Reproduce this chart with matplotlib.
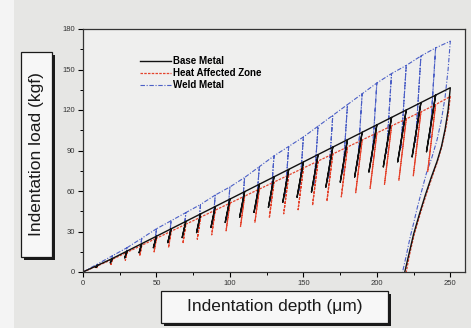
import matplotlib
matplotlib.use("Agg")
import matplotlib.pyplot as plt
from matplotlib.patches import Rectangle
from matplotlib.ticker import MultipleLocator

plt.rcParams["font.family"] = ["Liberation Sans", "DejaVu Sans"]

# depth of each loading peak (um), shared by the three materials
peak_depth = [10, 20, 30, 40, 50, 60, 70, 80, 90, 100, 110, 120, 130,
              140, 150, 160, 170, 180, 190, 200, 210, 220, 230, 240, 250]

# base metal
base_peak = [5, 10, 15.5, 21, 26.5, 32, 37.5, 43, 48.5, 54, 59.5, 65, 70.5,
             76, 81.5, 87, 92.5, 98, 103.5, 109, 114.5, 120, 125.5, 131, 136.5]
base_valley = [3.4, 6.8, 10.5, 14.3, 18, 21.8, 25.5, 29.2, 33, 36.7, 40.5, 44.2,
               47.9, 51.7, 55.4, 59.2, 62.9, 66.6, 70.4, 74.1, 77.9, 81.6, 85.3, 89.1]
base_valley_depth = [8.8, 18.6, 28.4, 38.2, 47.9, 57.7, 67.5, 77.3, 87.1, 96.8,
                     106.6, 116.4, 126.2, 136, 145.7, 155.5, 165.3, 175.1, 184.9,
                     194.6, 204.4, 214.2, 224, 233.8]
base_unload_depth = [248.5, 246.5, 244, 241, 237, 233, 229, 225, 222, 219]
base_unload_load = [120, 106, 93, 82, 70, 57, 43, 28, 14, 0]

# heat affected zone
haz_peak = [4.6, 9.4, 14.6, 19.8, 25, 30.2, 35.4, 40.6, 45.8, 51, 56.2, 61.4, 66.6,
            71.8, 77, 82.2, 87.4, 92.6, 97.8, 103, 108.2, 113.4, 118.6, 124, 130]
haz_valley = [2.8, 5.6, 8.8, 11.9, 15, 18.1, 21.2, 24.4, 27.5, 30.6, 33.7, 36.8,
              40, 43.1, 46.2, 49.3, 52.4, 55.6, 58.7, 61.8, 64.9, 68, 71.2, 74.4]
haz_valley_depth = [9.2, 19, 28.8, 38.6, 48.4, 58.2, 68, 77.8, 87.6, 97.4, 107.2,
                    117, 126.8, 136.6, 146.4, 156.2, 166, 175.8, 185.6, 195.4,
                    205.2, 215, 224.8, 234.6]
haz_unload_depth = [248.5, 246.5, 244, 241, 237.5, 233.5, 229.5, 225.5, 222.5, 220]
haz_unload_load = [116, 104, 92, 81, 70, 57, 43, 28, 14, 0]

# weld metal
weld_peak = [6, 12, 18, 25, 32, 38, 44, 50, 57, 63, 70, 78, 86,
             93, 100, 108, 116, 124, 132, 140, 147, 153, 160, 166, 171]
weld_valley = [4.2, 8.4, 12.6, 17, 21.5, 25, 28.5, 32, 36, 39.5, 43.5, 48, 52.5,
               56.5, 60.5, 65, 69.5, 74, 79, 84, 88, 92, 96, 99.5]
weld_valley_depth = [9.4, 19.3, 29.1, 39, 48.9, 58.7, 68.6, 78.5, 88.4, 98.2,
                     108.1, 117.9, 127.8, 137.6, 147.5, 157.3, 167.2, 177, 186.9,
                     196.7, 206.6, 216.4, 226.3, 236.2]
weld_unload_depth = [248.5, 246.5, 244, 241, 237.5, 233.7, 230.5, 227.6, 225,
                     222.5, 220, 217.5]
weld_unload_load = [150, 130, 113, 98, 85, 73, 60, 48, 36, 25, 12, 0]


def cycle_curve(peak, valley, valley_depth, unload_depth, unload_load):
    xs, ys = [0.0], [0.0]
    for h, p, vh, vp in zip(peak_depth[:-1], peak[:-1], valley_depth, valley):
        xs += [h, vh, h]
        ys += [p, vp, p]
    xs.append(peak_depth[-1])
    ys.append(peak[-1])
    xs += unload_depth
    ys += unload_load
    return xs, ys


fig = plt.figure(figsize=(4.71, 3.28), dpi=100, facecolor="#e6e6e4")
W, H = 471, 328
fig.patches.append(Rectangle((0, 0), 14 / W, 1, transform=fig.transFigure,
                             facecolor="#f4f4f4", edgecolor="none", zorder=-1))

ax = fig.add_axes([83 / W, 1 - 272 / H, 382 / W, 243 / H])
ax.set_facecolor("#efefee")

bx, by = cycle_curve(base_peak, base_valley, base_valley_depth,
                     base_unload_depth, base_unload_load)
hx, hy = cycle_curve(haz_peak, haz_valley, haz_valley_depth,
                     haz_unload_depth, haz_unload_load)
wx, wy = cycle_curve(weld_peak, weld_valley, weld_valley_depth,
                     weld_unload_depth, weld_unload_load)

lw_ = ax.plot(wx, wy, color="#4b5fc6", lw=0.8, dashes=(4, 1.5, 1, 1.5),
              label="Weld Metal")[0]
lh_ = ax.plot(hx, hy, color="#e4432c", lw=0.9, dashes=(2, 1),
              label="Heat Affected Zone")[0]
lb_ = ax.plot(bx, by, color="#111111", lw=1.0, label="Base Metal")[0]

ax.set_xlim(0, 260)
ax.set_ylim(0, 180)
ax.xaxis.set_major_locator(MultipleLocator(50))
ax.xaxis.set_minor_locator(MultipleLocator(25))
ax.yaxis.set_major_locator(MultipleLocator(30))
ax.yaxis.set_minor_locator(MultipleLocator(15))
ax.tick_params(which="major", length=3.5, width=0.8, labelsize=5.5,
               labelcolor="#333333", pad=2)
ax.tick_params(which="minor", length=2, width=0.7)
for s in ax.spines.values():
    s.set_linewidth(0.9)
    s.set_color("#333333")

ax.legend(handles=[lb_, lh_, lw_], loc="upper left", bbox_to_anchor=(0.14, 0.905),
          frameon=False, handlelength=3.2, handletextpad=0.2, labelspacing=0.22,
          prop={"size": 7, "weight": "bold"}, borderaxespad=0)


def boxed_label(x0, y0, x1, y1, text, rotation=0):
    # box given in pixel coords from top-left
    fx, fy = x0 / W, 1 - y1 / H
    fw, fh = (x1 - x0) / W, (y1 - y0) / H
    fig.patches.append(Rectangle((fx + 3 / W, fy - 3 / H), fw, fh,
                                 transform=fig.transFigure, facecolor="#1a1a1a",
                                 edgecolor="none"))
    fig.patches.append(Rectangle((fx, fy), fw, fh, transform=fig.transFigure,
                                 facecolor="#f7f7f7", edgecolor="#1a1a1a", lw=0.9))
    fig.text(fx + fw / 2, fy + fh / 2, text, rotation=rotation, ha="center",
             va="center", fontsize=12.5, color="#1a1a1a")


boxed_label(21, 52, 52, 257, "Indentation load (kgf)", rotation=90)
boxed_label(161, 291, 388, 323, "Indentation depth (\u03bcm)")

fig.savefig("out.png", dpi=100, facecolor=fig.get_facecolor())
